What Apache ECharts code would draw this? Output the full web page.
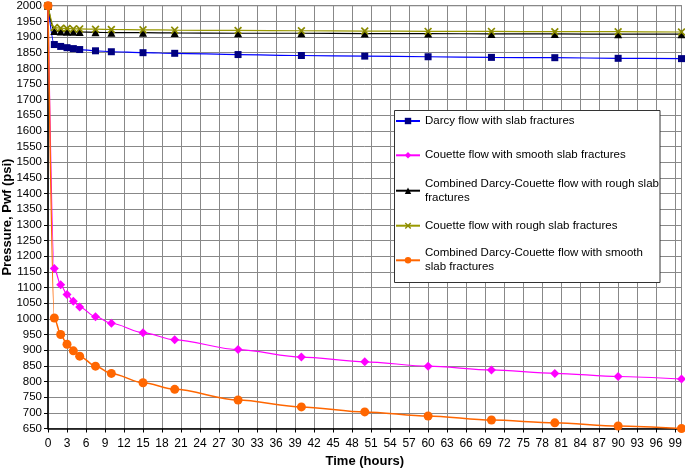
<!DOCTYPE html>
<html>
<head>
<meta charset="utf-8">
<script src="https://cdn.jsdelivr.net/npm/echarts@6/dist/echarts.min.js"></script>
<style>html,body{margin:0;padding:0;background:#fff}#c{width:685px;height:470px}</style>
</head>
<body>
<div id="c"></div>
<script>
var timeHours = [0, 1, 2, 3, 4, 5, 7.5, 10, 15, 20, 30, 40, 50, 60, 70, 80, 90, 100];
var darcySlab = [2000, 1876, 1870, 1866, 1863, 1860, 1856, 1853, 1850, 1848, 1844, 1841, 1839, 1837, 1835, 1834, 1832, 1831];
var couetteSmooth = [2000, 1161, 1109, 1078, 1056, 1038, 1007, 986, 956, 933, 902, 878, 863, 849, 837, 826, 816, 808];
var combinedRough = [2000, 1919, 1918, 1917, 1917, 1916, 1915, 1914, 1914, 1913, 1912, 1912, 1911, 1911, 1910, 1910, 1909, 1909];
var couetteRough = [2000, 1930, 1928, 1927, 1926, 1926, 1925, 1924, 1923, 1922, 1921, 1920, 1919, 1918, 1918, 1917, 1917, 1916];
var combinedSmooth = [2000, 1003, 950, 919, 898, 881, 849, 826, 796, 775, 741, 719, 703, 690, 677, 668, 658, 650];
var xTicks = [0, 99, 3];
var yTicks = [650, 2000, 50];

var names = [
  'Darcy flow with slab fractures',
  'Couette flow with smooth slab fractures',
  'Combined Darcy-Couette flow with rough slab fractures',
  'Couette flow with rough slab fractures',
  'Combined Darcy-Couette flow with smooth slab fractures'
];
var wrapped = {};
wrapped[names[2]] = 'Combined Darcy-Couette flow with rough slab\nfractures';
wrapped[names[4]] = 'Combined Darcy-Couette flow with smooth\nslab fractures';

function pairs(ys) { return timeHours.map(function (x, i) { return [x, ys[i]]; }); }

var xShape = 'path://M0,1.5L1.5,0L5,3.5L8.5,0L10,1.5L6.5,5L10,8.5L8.5,10L5,6.5L1.5,10L0,8.5L3.5,5Z';

var font = 'Arial, "Liberation Sans", sans-serif';
var legendTops = [114, 148.3, 169.7, 218.7, 239.3];
var legends = names.map(function (n, i) {
  var two = !!wrapped[n];
  return {
    data: [n], orient: 'vertical', left: 395, top: legendTops[i], padding: 0,
    itemWidth: 24, itemHeight: 8, z: 20, selectedMode: false,
    formatter: function (name) { return wrapped[name] || name; },
    textStyle: { fontFamily: font, fontSize: 11.5, color: '#000', lineHeight: 14, padding: two ? [14, 0, 0, 0] : 0 }
  };
});

var chart = echarts.init(document.getElementById('c'), null, { renderer: 'canvas' });
chart.setOption({
  animation: false,
  backgroundColor: '#fff',
  grid: { left: 48, right: 3.5, top: 5.7, bottom: 41.5, show: true, borderColor: '#555', borderWidth: 1,
    containLabel: false, outerBoundsMode: 'none' },
  legend: legends,
  graphic: [{ type: 'rect', z: 10, shape: { x: 394.5, y: 110.5, width: 265.5, height: 172 },
    style: { fill: '#fff', stroke: '#333', lineWidth: 1 } }],
  xAxis: {
    type: 'value', min: 0, max: 100, interval: xTicks[2],
    name: 'Time (hours)', nameLocation: 'middle', nameGap: 26, nameMoveOverlap: false,
    nameTextStyle: { fontFamily: font, fontSize: 13, fontWeight: 'bold', color: '#000' },
    axisLine: { lineStyle: { color: '#000', width: 1.5 } },
    axisTick: { show: true, length: 4, lineStyle: { color: '#000' } },
    axisLabel: { fontFamily: font, fontSize: 12, color: '#000', margin: 9, showMaxLabel: false,
      formatter: function (v) { return v > xTicks[1] ? '' : String(v); } },
    splitLine: { show: true, lineStyle: { color: '#888', width: 1 } }
  },
  yAxis: {
    type: 'value', min: yTicks[0], max: yTicks[1], interval: yTicks[2],
    name: 'Pressure, Pwf (psi)', nameLocation: 'middle', nameGap: 34, nameMoveOverlap: false,
    nameTextStyle: { fontFamily: font, fontSize: 13, fontWeight: 'bold', color: '#000' },
    axisLine: { show: true, lineStyle: { color: '#000', width: 1.5 } },
    axisTick: { show: true, length: 4, lineStyle: { color: '#000' } },
    axisLabel: { fontFamily: font, fontSize: 11.5, color: '#000', margin: 6,
      formatter: function (v) { return String(v); } },
    splitLine: { show: true, lineStyle: { color: '#888', width: 1 } }
  },
  series: [
    { name: names[0], type: 'line', data: pairs(darcySlab), smooth: 0.3, smoothMonotone: 'x',
      symbol: 'rect', symbolSize: 7, lineStyle: { color: '#0000ff', width: 1.2 },
      itemStyle: { color: '#000080' } },
    { name: names[1], type: 'line', data: pairs(couetteSmooth), smooth: 0.3, smoothMonotone: 'x',
      symbol: 'diamond', symbolSize: 9, lineStyle: { color: '#ff00ff', width: 1.2 },
      itemStyle: { color: '#ff00ff' } },
    { name: names[2], type: 'line', data: pairs(combinedRough), smooth: 0.3, smoothMonotone: 'x',
      symbol: 'triangle', symbolSize: 8, lineStyle: { color: '#000', width: 1.2 },
      itemStyle: { color: '#000' } },
    { name: names[3], type: 'line', data: pairs(couetteRough), smooth: 0.3, smoothMonotone: 'x',
      symbol: xShape, symbolSize: 8, lineStyle: { color: '#999900', width: 1.2 },
      itemStyle: { color: '#8a8a00' } },
    { name: names[4], type: 'line', data: pairs(combinedSmooth), smooth: 0.3, smoothMonotone: 'x',
      symbol: 'circle', symbolSize: 9, lineStyle: { color: '#ff6600', width: 1.5 },
      itemStyle: { color: '#ff6600' } }
  ]
});
</script>
</body>
</html>
